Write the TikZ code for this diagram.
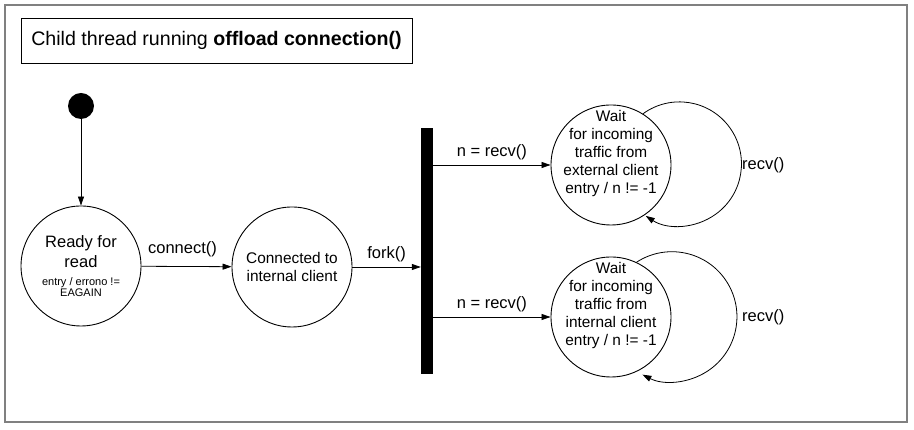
\documentclass[tikz,border=0pt]{standalone}
\usepackage{fontspec}
\setmainfont{Liberation Sans}
\usetikzlibrary{automata,positioning,arrows.meta}

\begin{document}
\begin{tikzpicture}[x=1pt,y=1pt,
  every state/.style={draw=black,line width=0.9pt,minimum size=120pt,inner sep=0pt,align=center},
  edge/.style={-{Triangle[length=9pt,width=6pt]},line width=0.8pt},
  lbl/.style={font=\fontsize{16.5}{18}\selectfont,inner sep=0pt},
  body/.style={font=\fontsize{15.4}{18.2}\selectfont}]
\useasboundingbox (0,0) rectangle (914,430);
\draw [gray,line width=1.5pt] (5,8) rectangle (907,425);
\node [draw,line width=0.8pt,minimum width=391pt,minimum height=45pt,font=\fontsize{19.6}{22}\selectfont] (title) at (216.5,389.5) {Child thread running \textbf{offload connection()}};
% start and the left part
\node [circle,fill=black,minimum size=26pt,inner sep=0pt] (init) at (81,324) {};
\node [state,font=\fontsize{16.5}{20}\selectfont] (ready) at (81,164) {Ready for\\read\\[-2pt]{\fontsize{11}{13}\selectfont entry / errono !=}\\[-8.5pt]{\fontsize{11}{13}\selectfont EAGAIN}};
\node [state,body] (conn) at (292,163) {Connected to\\internal client};
\node [fill=black,minimum width=12pt,minimum height=246pt,inner sep=0pt] (bar) at (427,179) {};
% the two waiting states
\node [state] (ext) at (611,265) {};
\node [body,align=center] (ext-t) at ([yshift=11.5pt]ext.center) {Wait\\for incoming\\traffic from\\external client\\entry / n != -1};
\node [state] (int) at (611,113) {};
\node [body,align=center] (int-t) at ([yshift=11.5pt]int.center) {Wait\\for incoming\\traffic from\\internal client\\entry / n != -1};
\node [lbl,anchor=west] (ext-r) at ([xshift=131pt]ext.center) {recv()};
\node [lbl,anchor=west] (int-r) at ([xshift=131pt]int.center) {recv()};
% transitions
\draw [edge] (init) -- (ready);
\draw [edge] (ready) -- (conn) node [lbl,midway,above=9pt,xshift=-4pt] {connect()};
\draw [edge] (conn) -- (conn -| bar.west) node [lbl,midway,above=5pt] {fork()};
\draw [edge] (ext -| bar.east) -- (ext) node [lbl,midway,above=5pt] {n = recv()};
\draw [edge] (int -| bar.east) -- (int) node [lbl,midway,above=5pt] {n = recv()};
\draw [edge] (ext.58) arc [start angle=126,end angle=-123,radius=62];
\draw [edge] (int.65) arc [start angle=123,end angle=-117,radius=65];
\end{tikzpicture}
\end{document}
